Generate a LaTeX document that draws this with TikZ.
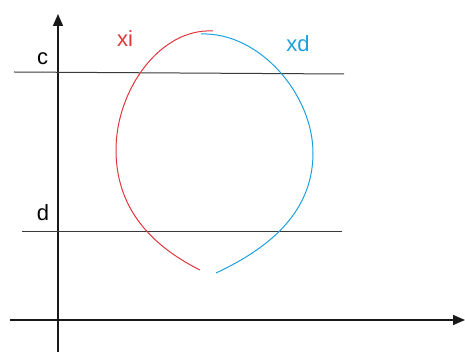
\documentclass[tikz,border=0pt]{standalone}
\usepackage{fontspec}
\setmainfont{Liberation Sans}
\usetikzlibrary{arrows.meta}
\definecolor{curveRed}{HTML}{E2373A}
\definecolor{curveBlue}{HTML}{1CA0E0}
\definecolor{lineGray}{HTML}{3A3A3A}
\tikzset{
  axisLine/.style={line width=1.4pt, black!90, -{Triangle[length=12pt, width=10pt]}},
  levelLine/.style={line width=1pt, lineGray},
  curveLine/.style={line width=1pt},
  levelLabel/.style={anchor=base, font=\fontsize{22}{26}\selectfont, inner sep=0pt}
}

\begin{document}
\begin{tikzpicture}[x=1pt,y=-1pt]
  \useasboundingbox (0,0) rectangle (465,352);
  % axes
  \coordinate (yStart) at (58,352);
  \coordinate (yEnd) at (58,14);
  \coordinate (xStart) at (10,320);
  \coordinate (xEnd) at (465,320);
  \draw[axisLine] (yStart) -- (yEnd);
  \draw[axisLine] (xStart) -- (xEnd);
  % level lines c and d
  \coordinate (cLeft) at (14,72);
  \coordinate (cRight) at (344,74);
  \coordinate (dLeft) at (22,232);
  \coordinate (dRight) at (342,232);
  \draw[levelLine] (cLeft) -- (cRight);
  \draw[levelLine] (dLeft) -- (dRight);
  \node[levelLabel] (cLabel) at (42.5,65) {c};
  \node[levelLabel] (dLabel) at (43,221) {d};
  % the two branches
  \draw[curveLine, curveRed] (213,31) .. controls (160,28) and (116,90) .. (116,150)
    .. controls (116,215) and (160,250) .. (200,270);
  \draw[curveLine, curveBlue] (201,34) .. controls (260,32) and (313,95) .. (313,153)
    .. controls (313,215) and (265,250) .. (216,273);
  \node[levelLabel, text=curveRed] (xiLabel) at (125,47) {xi};
  \node[levelLabel, text=curveBlue] (xdLabel) at (298,52) {xd};
\end{tikzpicture}
\end{document}
